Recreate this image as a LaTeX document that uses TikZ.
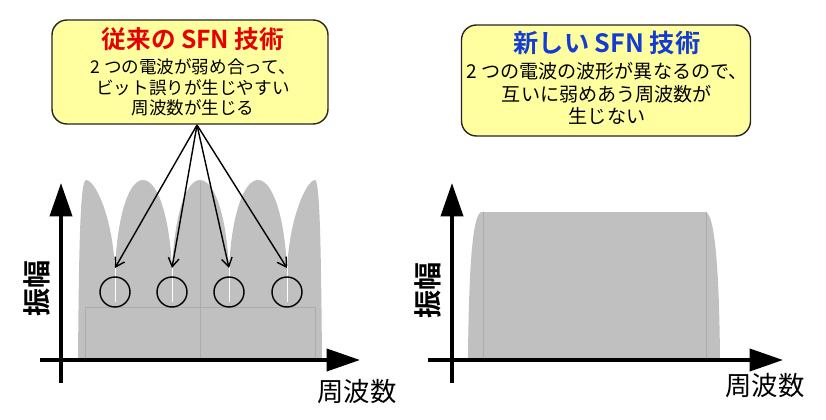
\documentclass[tikz,border=0pt]{standalone}
\usepackage{fontspec}
\setmainfont{Noto Sans CJK JP}[BoldFont={Noto Sans CJK JP Bold}]
\usepackage{tikz}
\usetikzlibrary{positioning,arrows.meta}
\definecolor{notefill}{RGB}{255,255,160}
\definecolor{lobe}{RGB}{192,192,192}
\definecolor{lobeline}{RGB}{172,172,172}
\definecolor{oldred}{RGB}{230,0,0}
\definecolor{newblue}{RGB}{20,60,210}

\begin{document}
\begin{tikzpicture}[x=0.03cm,y=-0.03cm]
		\tikzset{
			note/.style={draw=black!85, line width=1.2pt, rounded corners=0.45cm, fill=notefill, align=center, inner sep=0pt},
			axis/.style={line width=3.2pt, -{Triangle[length=1cm,width=0.66cm]}},
			pointer/.style={line width=1.2pt, -{Straight Barb[length=2.6mm,width=3.2mm]}},
			gap/.style={draw=black, line width=1.2pt, circle, minimum size=0.9cm, inner sep=0pt},
			amp/.style={font=\fontsize{24}{24}\selectfont\bfseries, rotate=90},
			freq/.style={font=\fontsize{22.5}{22}\selectfont},
		}
		\useasboundingbox (0,0) rectangle (826,420);
		% text boxes
		\node[note, minimum width=8.28cm, minimum height=3.12cm] (oldbox) at (190,72) {};
		\node[align=center, inner sep=0pt, font=\fontsize{15}{17.4}\selectfont] (oldtext) at (193,72)
			{{\fontsize{21}{22}\selectfont\bfseries\color{oldred}従来の SFN 技術}\\[4pt]
			 2 つの電波が弱め合って、\\ ビット誤りが生じやすい\\ 周波数が生じる};
		\node[note, minimum width=8.67cm, minimum height=3.33cm] (newbox) at (606,80.5) {};
		\node[align=center, inner sep=0pt, font=\fontsize{16.3}{19.2}\selectfont] (newtext) at (607,78)
			{{\fontsize{21.5}{22}\selectfont\bfseries\color{newblue}新しい SFN 技術}\\[3pt]
			 2 つの電波の波形が異なるので、\\ 互いに弱めあう周波数が\\ 生じない};
		% left spectrum
		\fill[lobe] (78,358) .. controls (79,250) and (80,180) .. (86,180)
			.. controls (95,180) and (112,215) .. (115,268)
			.. controls (118,210) and (130,180) .. (143,180)
			.. controls (156,180) and (169,210) .. (172,268)
			.. controls (175,210) and (187,180) .. (200,180)
			.. controls (213,180) and (226,210) .. (229,268)
			.. controls (232,210) and (245,180) .. (258,180)
			.. controls (271,180) and (284,210) .. (287,268)
			.. controls (290,215) and (307,180) .. (315,180)
			.. controls (320,180) and (321,250) .. (322,358) -- cycle;
		\draw[lobeline, line width=0.5pt] (85,307) rectangle (200,358) (200,307) rectangle (315,358) (200,182) -- (200,307);
		\foreach \x/\n in {115/1,172/2,229/3,287/4}{
			\draw[white, line width=0.8pt] (\x,266) -- (\x,302);
			\coordinate (dip\n) at (\x,268);
			\node[gap] (c\n) at (\x,292) {};
		}
		\coordinate (fan) at (197,125);
		\foreach \n in {1,...,4}
			\draw[pointer] (fan) -- (dip\n);
		\draw[axis] (61,383) -- (61,183);
		\draw[axis] (40,360) -- (360,360);
		\node[amp] (amp1) at (37,288) {振幅};
		\node[freq] (freq1) at (357,392) {周波数};
		% right spectrum
		\fill[lobe] (468,358) .. controls (469,250) and (474,212) .. (482,212) -- (705,212)
			.. controls (713,212) and (719,250) .. (720,358) -- cycle;
		\draw[lobeline, line width=0.5pt] (483,212) -- (483,358) (706,212) -- (706,358);
		\draw[axis] (452,383) -- (452,183);
		\draw[axis] (428,360) -- (783,360);
		\node[amp] (amp2) at (428,290) {振幅};
		\node[freq] (freq2) at (765,386) {周波数};
\end{tikzpicture}
\end{document}
